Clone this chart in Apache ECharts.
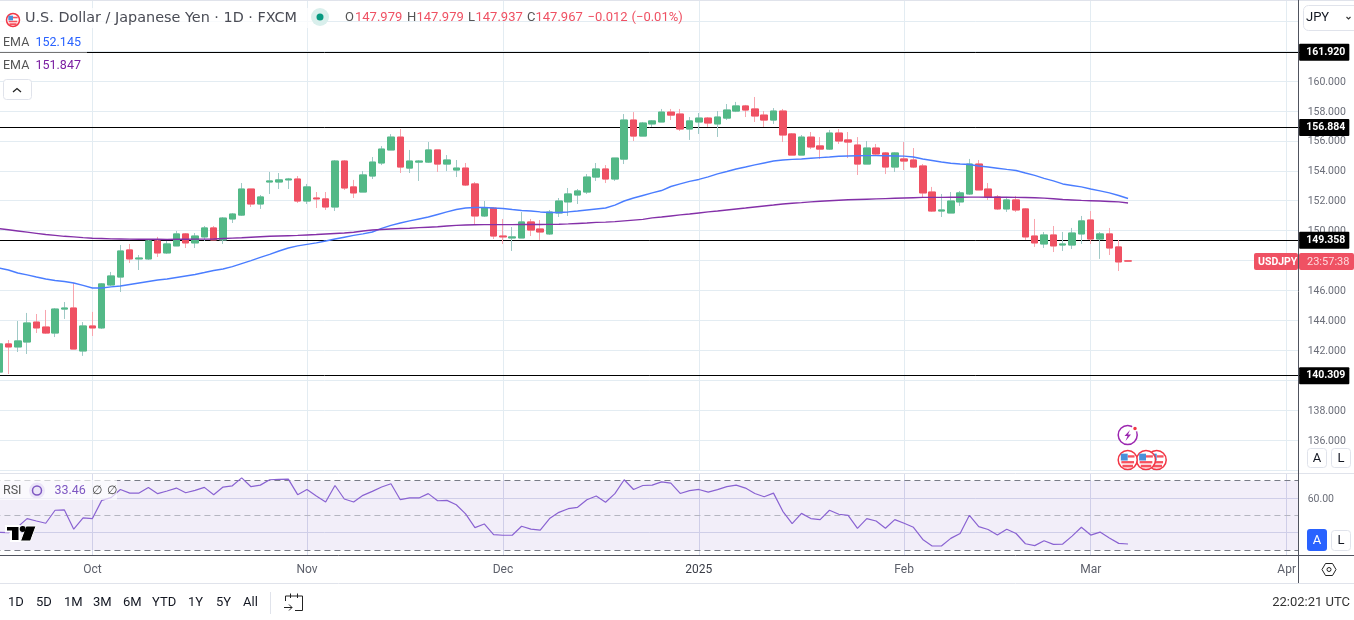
<!DOCTYPE html>
<html>
<head>
<meta charset="utf-8">
<style>html,body{margin:0;padding:0;background:#fff}#chart{width:1354px;height:620px}</style>
<script src="https://cdn.jsdelivr.net/npm/echarts@6/dist/echarts.min.js"></script>
</head>
<body>
<div id="chart"></div>
<script>
// daily USD/JPY, first bar is 17 Sep 2024
const opens = [140.55,142.43,142.23,142.56,143.89,143.56,143.16,144.76,144.83,141.96,143.63,143.50,146.37,146.90,148.71,148.11,148.11,149.31,148.51,148.98,
149.78,149.18,149.58,150.18,149.38,150.78,151.04,152.78,151.78,153.25,153.25,153.39,153.45,151.98,152.18,152.12,151.58,154.65,152.92,152.58,
153.65,154.52,155.39,156.25,154.18,154.58,154.58,155.39,154.45,154.05,154.18,153.12,150.98,151.51,149.64,149.51,149.51,150.58,150.11,149.78,
151.18,151.92,152.38,152.58,153.58,154.12,153.45,154.78,157.39,156.32,157.13,157.26,157.92,157.79,156.79,157.26,157.52,157.13,157.52,157.99,
158.33,158.13,157.72,157.39,157.99,156.46,155.05,156.25,155.66,155.45,156.52,156.06,155.72,154.45,155.52,155.19,154.25,154.79,154.72,154.32,
152.58,151.31,151.18,151.92,152.45,154.45,152.78,152.25,151.45,152.05,151.45,149.64,149.11,149.71,149.04,149.04,149.78,150.71,149.44,149.78,
148.91,147.979];
const closes = [142.43,142.23,142.63,143.83,143.50,143.16,144.76,144.83,142.09,143.63,143.50,146.44,146.97,148.64,148.11,148.17,149.31,148.51,149.11,149.78,
149.18,149.64,150.18,149.38,150.84,151.11,152.78,151.78,152.25,153.32,153.39,153.45,151.98,152.92,152.12,151.58,154.65,152.85,152.52,153.72,
154.58,155.45,156.25,154.25,154.65,154.65,155.39,154.45,154.72,154.18,153.05,150.98,151.51,149.64,149.58,149.58,150.58,150.04,149.91,151.24,
151.98,152.45,152.65,153.58,154.12,153.45,154.85,157.39,156.32,157.19,157.33,157.92,157.72,156.79,157.33,157.52,157.19,157.59,158.06,158.33,
158.06,157.66,157.39,157.99,156.39,155.05,156.25,155.59,155.45,156.52,155.99,155.92,154.45,155.52,155.12,154.25,155.19,154.65,154.25,152.52,
151.31,151.38,151.98,152.52,154.45,152.72,152.25,151.45,152.05,151.38,149.58,149.18,149.71,148.98,149.11,149.84,150.65,149.44,149.78,148.84,
147.91,147.967];
const lows = [140.42,140.42,141.89,141.76,143.16,143.10,142.89,144.10,142.09,141.63,142.96,143.43,146.30,145.90,147.84,147.37,148.04,148.24,148.44,148.98,
148.84,148.84,149.31,149.38,149.11,150.51,150.98,151.58,151.45,152.45,152.78,152.78,151.85,151.78,151.51,151.38,151.31,152.72,152.18,152.58,
153.45,154.38,155.39,153.85,153.85,153.32,154.52,153.92,153.98,153.58,152.98,150.38,150.91,149.44,149.11,148.64,149.51,149.64,149.38,149.71,
150.91,150.98,151.78,152.45,153.32,153.18,153.32,154.45,155.99,156.32,156.93,157.26,157.39,156.66,156.06,156.46,156.93,156.26,157.39,157.92,
157.59,157.26,156.93,157.13,155.92,155.05,155.05,155.45,154.79,155.39,155.79,154.85,153.72,154.45,155.05,153.78,153.92,154.05,154.18,152.18,
151.25,150.91,151.18,151.65,152.38,152.72,152.05,151.38,151.25,151.25,149.38,148.91,148.84,148.57,148.64,148.77,149.11,149.11,148.11,148.37,
147.30,147.937];
const highs = [142.56,142.69,143.96,144.50,144.43,144.70,144.83,145.23,146.50,143.89,144.57,146.50,147.24,149.04,149.11,148.37,149.38,149.58,149.31,149.98,
149.84,149.84,150.31,150.31,150.91,151.18,153.18,152.78,152.38,153.92,153.85,153.52,153.65,153.12,152.58,152.58,154.72,154.72,153.39,153.98,
154.92,155.65,156.45,156.79,155.39,154.72,155.92,155.39,155.05,154.72,154.52,153.25,151.98,151.58,150.78,150.24,151.24,150.78,150.71,151.38,
152.18,152.85,152.78,153.78,154.52,154.38,154.85,157.79,157.92,157.26,157.39,158.13,158.13,158.13,157.59,157.86,157.59,157.99,158.46,158.60,
158.40,158.93,157.99,158.19,158.13,156.52,156.39,156.59,156.25,156.73,156.79,156.59,156.25,155.99,155.79,155.25,155.25,155.92,155.52,154.45,
152.92,152.45,152.58,152.65,154.79,154.72,153.18,152.38,152.25,152.32,151.51,150.78,149.91,150.31,149.91,150.18,150.98,151.31,149.91,150.18,
149.38,147.979];
const emaBlue = [147.50,147.37,147.17,147.04,146.90,146.77,146.67,146.60,146.50,146.34,146.17,146.17,146.24,146.30,146.40,146.50,146.60,146.70,146.77,146.87,
146.97,147.07,147.20,147.34,147.44,147.60,147.80,148.00,148.21,148.41,148.64,148.84,148.98,149.08,149.18,149.31,149.44,149.56,149.68,149.78,
149.91,150.15,150.35,150.51,150.65,150.78,150.91,151.08,151.25,151.41,151.51,151.55,151.55,151.51,151.48,151.41,151.35,151.31,151.25,151.21,
151.21,151.25,151.31,151.38,151.45,151.51,151.71,151.98,152.18,152.35,152.52,152.68,152.95,153.12,153.29,153.42,153.59,153.79,153.95,154.12,
154.25,154.39,154.52,154.65,154.72,154.76,154.79,154.84,154.88,154.92,154.97,154.99,155.00,155.01,155.01,155.00,154.99,154.98,154.92,154.79,
154.69,154.59,154.50,154.45,154.42,154.32,154.25,154.17,154.09,154.02,153.85,153.69,153.49,153.32,153.12,153.02,152.92,152.78,152.66,152.52,
152.35,152.145];
const emaPurple = [150.13,150.06,149.98,149.90,149.82,149.74,149.68,149.62,149.58,149.53,149.49,149.47,149.45,149.44,149.43,149.42,149.42,149.42,149.41,149.42,
149.42,149.43,149.43,149.44,149.47,149.50,149.52,149.56,149.59,149.62,149.64,149.66,149.68,149.71,149.74,149.78,149.81,149.84,149.89,149.98,
150.04,150.08,150.11,150.14,150.16,150.20,150.23,150.26,150.31,150.35,150.38,150.39,150.40,150.40,150.40,150.40,150.41,150.41,150.41,150.42,
150.43,150.45,150.48,150.51,150.55,150.57,150.60,150.65,150.70,150.75,150.85,150.91,150.98,151.05,151.11,151.18,151.25,151.31,151.38,151.45,
151.51,151.58,151.65,151.71,151.78,151.83,151.87,151.92,151.96,152.00,152.03,152.06,152.08,152.10,152.12,152.14,152.16,152.18,152.20,152.22,
152.22,152.22,152.23,152.23,152.24,152.24,152.23,152.23,152.23,152.22,152.21,152.20,152.17,152.13,152.08,152.05,152.02,152.00,151.98,151.95,
151.92,151.847];
const rsi = [40.2,40.0,43.3,48.1,46.7,45.4,52.9,53.1,42.0,48.5,48.1,58.6,60.2,64.9,62.8,62.8,66.1,62.5,64.0,65.7,
63.0,64.4,66.1,61.9,66.3,67.0,71.6,66.5,67.4,70.5,70.7,70.9,61.9,64.9,61.1,57.7,67.2,59.4,57.7,61.5,
63.8,66.3,68.2,59.0,60.0,60.0,62.5,58.4,58.6,56.1,50.8,42.9,45.0,38.9,38.5,38.5,43.7,42.0,41.4,48.1,
51.7,53.8,54.6,59.0,61.1,57.5,62.5,70.5,64.9,67.2,67.4,69.3,68.6,62.6,64.2,64.9,63.4,64.8,66.5,67.4,
65.7,62.6,60.7,62.8,52.3,45.2,51.1,48.1,47.5,52.9,50.6,50.0,42.5,48.1,46.7,42.5,47.5,45.4,43.1,36.1,
32.3,32.3,36.7,39.5,50.0,43.5,41.8,38.6,42.0,39.5,33.6,32.5,35.3,33.2,33.4,38.0,43.1,38.6,40.3,36.9,
33.8,33.46];
const levels = [161.920,156.884,149.358,140.309];
const rsiBandTop = 70, rsiBandMid = 50, rsiBandBottom = 30;
const rsiTicks = [40,60];
const rsiLabels = [60];
const monthLabels = {'2024-10-01':'Oct','2024-11-01':'Nov','2024-12-02':'Dec','2025-01-02':'2025','2025-02-03':'Feb','2025-03-03':'Mar','2025-04-01':'Apr'};
const closedDays = ['2024-12-25','2025-01-01'];
const rangeButtons = ['1D','5D','1M','3M','6M','YTD','1Y','5Y','All'];

// weekday axis, runs on empty past the last bar up to April
let categories = [];
let day = Date.UTC(2024,8,17);
while(categories.length < 140){
    let d = new Date(day);
    let s = d.toISOString().slice(0,10);
    if(d.getUTCDay() != 0 && d.getUTCDay() != 6 && closedDays.indexOf(s) < 0) categories.push(s);
    day += 86400000;
}

const FONT = 'Roboto, sans-serif';
const UP = '#53b987', DOWN = '#ef5163';
const UP_WICK = '#9fc9c6', DOWN_WICK = '#f8a5ae';
const GRID = '#e3ecf2', AXIS = '#50535e', BORDER = '#e0e3eb';

let candleRaw = [], candleBody = [];
for(let i = 0; i < opens.length; i++){
    candleRaw.push([opens[i],closes[i],lows[i],highs[i]]);
    candleBody.push([opens[i],closes[i],Math.min(opens[i],closes[i]),Math.max(opens[i],closes[i])]);
}

function text(x,y,s,fill,size,extra){
    extra = extra || {};
    let st = {x:x,y:y,text:s,fill:fill,font:(extra.weight?extra.weight+' ':'')+size+'px '+(extra.family||FONT),verticalAlign:'middle',align:extra.align||'left'};
    return {type:'text',z:30,silent:true,style:st};
}
function box(x,y,w,h,fill,opt){
    opt = opt || {};
    return {type:'rect',z:opt.z||25,silent:true,shape:{x:x,y:y,width:w,height:h,r:opt.r||0},
        style:{fill:fill,stroke:opt.stroke||null,lineWidth:1,opacity:opt.opacity==null?1:opt.opacity}};
}
function line(x1,y1,x2,y2,color,z){
    return {type:'line',z:z||26,silent:true,shape:{x1:x1,y1:y1,x2:x2,y2:y2},style:{stroke:color,lineWidth:1}};
}
function circle(x,y,r,fill,stroke,z){
    return {type:'circle',z:z||28,silent:true,shape:{cx:x,cy:y,r:r},style:{fill:fill,stroke:stroke||null,lineWidth:1.5}};
}
function flag(x,y,r,z){
    let k = r/9;
    return [
        circle(x,y,r,'#fff','#f23645',z),
        box(x-6*k,y+1*k,12*k,2.2*k,'#f7525f',{z:z+0.1}),
        box(x-5*k,y+4.5*k,10*k,2.5*k,'#f7525f',{z:z+0.1}),
        box(x,y-4.5*k,6.5*k,2.2*k,'#f7525f',{z:z+0.1}),
        box(x-6.5*k,y-6*k,6.5*k,6.5*k,'#4a90d9',{z:z+0.2})
    ];
}

let ui = [
    // the axis overruns by a couple of pixels, cover it
    box(1298,0,4,472,'#fff',{z:2}),
    box(1298,473,4,82,'#fff',{z:3.5}),
    box(0,8,318,20,'#fff',{opacity:0.75,z:20}),
    box(0,31,87,45,'#fff',{opacity:0.45,z:20}),
    box(0,480,117,20,'#fff',{opacity:0.65,z:20}),
    line(0,0.5,1354,0.5,BORDER),
    line(0,473.5,1354,473.5,BORDER),
    line(0,583.5,1354,583.5,BORDER),
    line(0,555.5,1354,555.5,AXIS),
    line(1298.5,0,1298.5,583,AXIS),
    text(25,18,'U.S. Dollar / Japanese Yen · 1D · FXCM','#4a4c55',14.4,{family:'"DejaVu Sans", sans-serif'}),
    circle(320,17,9,'#d9efec',null,21),
    circle(320,17,3.5,'#089981',null,22),
    text(345,18,'O','#555',13), text(355,18,'147.979',DOWN,13),
    text(407,18,'H','#555',13), text(416.5,18,'147.979',DOWN,13),
    text(468,18,'L','#555',13), text(475.5,18,'147.937',DOWN,13),
    text(527,18,'C','#555',13), text(535.5,18,'147.967',DOWN,13),
    text(587.5,18,'−0.012',DOWN,13), text(631.5,18,'(−0.01%)',DOWN,13),
    text(3,42.5,'EMA','#555',12.5), text(35.5,42.5,'152.145','#2962ff',12.5),
    text(3,66,'EMA','#555',12.5), text(35.5,66,'151.847','#7b1fa2',12.5),
    box(3.5,79.5,28,20,'#fff',{stroke:BORDER,r:3}),
    {type:'polyline',z:30,silent:true,shape:{points:[[13,92],[17,88.5],[21,92]]},style:{stroke:'#222',lineWidth:1.3,fill:null}},
    text(3,491,'RSI','#555',12.5),
    circle(37,490.5,8,'#ece6f8',null,21),
    circle(37,490.5,4.5,null,'#7e57c2',22),
    text(54.5,491,'33.46','#7e57c2',12.5),
    text(92,491,'∅','#444',12), text(107,491,'∅','#444',12),
    // tradingview mark
    {type:'polygon',z:24,silent:true,shape:{points:[[6,526],[19.5,526],[19.5,541],[11,541],[11,531.5],[6,531.5]]},style:{fill:'#000',stroke:'#fff',lineWidth:2}},
    circle(22.7,529,3,'#000',null,25),
    {type:'polygon',z:24,silent:true,shape:{points:[[26,526],[36,526],[30.5,541],[20.5,541]]},style:{fill:'#000',stroke:'#fff',lineWidth:1}},
    // price tag
    box(1254,253,44,17,'#ef5163',{r:2,z:27}),
    box(1299,253,55,17,'#ef5163',{r:2,z:27}),
    text(1258,262,'USDJPY','#fff',10.5,{weight:'bold'}),
    text(1307,262,'23:57:38','#fdd8dc',11),
    // scale buttons
    box(1303.5,5.5,60,25,'#fff',{stroke:BORDER,r:5}),
    text(1306,18,'JPY','#131722',13),
    {type:'polyline',z:30,silent:true,shape:{points:[[1346.5,17],[1348.5,19],[1350.5,17]]},style:{stroke:'#333',lineWidth:1.1,fill:null}},
    box(1307.5,448.5,19,19,'#fff',{stroke:BORDER,r:3}), text(1317,458.5,'A','#131722',13,{align:'center'}),
    box(1331.5,448.5,19,19,'#fff',{stroke:BORDER,r:3}), text(1341,458.5,'L','#131722',13,{align:'center'}),
    box(1307,529,20,22,'#2962ff',{r:3}), text(1317,540.5,'A','#fff',13,{align:'center'}),
    box(1331.5,530.5,19,20,'#fff',{stroke:BORDER,r:3}), text(1341,540.5,'L','#131722',13,{align:'center'}),
    // settings hexagon
    {type:'polygon',z:30,silent:true,shape:{points:[[1322,569.5],[1325.5,563.5],[1332.5,563.5],[1336,569.5],[1332.5,575.5],[1325.5,575.5]]},style:{fill:null,stroke:'#222',lineWidth:1}},
    {type:'circle',z:30,silent:true,shape:{cx:1329,cy:569.5,r:2},style:{fill:null,stroke:'#222',lineWidth:1}},
    // bottom bar
    line(270.5,592,270.5,614,BORDER),
    {type:'polyline',z:30,silent:true,shape:{points:[[285.5,601],[285.5,596],[302.5,596],[302.5,610.5],[295,610.5]]},style:{stroke:'#222',lineWidth:1,fill:null}},
    line(290.5,593.5,290.5,598,'#222'), line(297.5,593.5,297.5,598,'#222'),
    {type:'polyline',z:30,silent:true,shape:{points:[[284,607.5],[292,607.5]]},style:{stroke:'#222',lineWidth:1}},
    {type:'polyline',z:30,silent:true,shape:{points:[[289,604.5],[292,607.5],[289,610.5]]},style:{stroke:'#222',lineWidth:1,fill:null}},
    text(1350,603,'22:02:21 UTC','#333',13,{align:'right'}),
    // events
    circle(1127.7,435,9.5,'#fff','#9c27b0',28),
    {type:'polygon',z:29,silent:true,shape:{points:[[1130,430],[1124.5,436],[1127.5,436],[1125.5,441],[1131,434.5],[1128,434.5]]},style:{fill:'#9c27b0'}},
    circle(1135,428.5,2.5,'#f23645','#fff',29)
].concat(flag(1156.7,460,9.5,27)).concat(flag(1146,460,9.5,27.5)).concat(flag(1127.7,460,9.5,28)).concat(flag(13,20,6.5,27));

const rangeX = [8,36,64,93,123,152,188,216,243];
for(let i = 0; i < rangeButtons.length; i++){
    ui.push(text(rangeX[i],603,rangeButtons[i],'#131722',13));
}

const tickRich = {t:{color:'#6a6d78',fontSize:10.5,fontFamily:FONT,padding:[2,0,0,0]}};

let option = {
    animation:false,
    textStyle:{fontFamily:FONT},
    graphic:{elements:ui},
    axisPointer:{show:false},
    grid:[
        {left:-5.565,top:0,width:1306.2,height:470.1,outerBoundsMode:'none'},
        {left:-5.565,top:473,width:1306.2,height:82,outerBoundsMode:'none'}
    ],
    xAxis:[
        {type:'category',gridIndex:0,data:categories,boundaryGap:true,
            axisLine:{show:false},axisTick:{show:false},axisLabel:{show:false},
            splitLine:{show:true,alignWithLabel:true,lineStyle:{color:GRID,width:1},interval:function(i,v){return !!monthLabels[v];}}},
        {type:'category',gridIndex:1,data:categories,boundaryGap:true,
            axisLine:{show:false},axisTick:{show:false},
            axisLabel:{show:true,interval:function(i,v){return !!monthLabels[v];},
                formatter:function(v){
                    let s = monthLabels[v]||'';
                    return s == '2025' ? '{year|'+s+'}' : s;
                },
                rich:{year:{color:'#3a3d47',fontSize:12,fontFamily:FONT}},
                color:'#5d606b',fontSize:12,margin:9,
                fontFamily:FONT},
            splitLine:{show:true,alignWithLabel:true,lineStyle:{color:'#d8dcec',width:1},interval:function(i,v){return !!monthLabels[v];}}}
    ],
    yAxis:[
        {type:'value',gridIndex:0,position:'right',min:134,max:165.41,interval:2,
            axisLine:{show:false},axisTick:{show:false},
            axisLabel:{margin:7,showMaxLabel:false,showMinLabel:false,rich:tickRich,
                formatter:function(v){return '{t|'+v.toFixed(3)+'}';}},
            splitLine:{show:true,lineStyle:{color:GRID,width:1}}},
        {type:'value',gridIndex:1,position:'right',min:27.1,max:74.4,
            axisLine:{show:false},axisTick:{show:false,customValues:rsiTicks},
            axisLabel:{margin:7,customValues:rsiLabels,rich:tickRich,formatter:function(v){return '{t|'+v.toFixed(2)+'}';}},
            splitLine:{show:true,lineStyle:{color:'#d8dcec',width:1}}}
    ],
    series:[
        {name:'wicks',type:'candlestick',xAxisIndex:0,yAxisIndex:0,data:candleRaw,barWidth:7,z:4,silent:true,
            itemStyle:{color:UP,color0:DOWN,borderColor:UP_WICK,borderColor0:DOWN_WICK,borderWidth:1},
            markLine:{silent:true,symbol:'none',z:3,animation:false,precision:3,
                lineStyle:{color:'#000',type:'solid',width:1},
                label:{show:true,position:'end',distance:-1.5,formatter:function(p){return p.value.toFixed(3);},
                    color:'#fff',backgroundColor:'#000',fontWeight:'bold',fontSize:10.5,padding:[4,4,2,7],borderRadius:1,fontFamily:FONT},
                data:levels.map(function(v){return {yAxis:v};})}},
        {name:'bodies',type:'candlestick',xAxisIndex:0,yAxisIndex:0,data:candleBody,barWidth:7,z:5,silent:true,
            itemStyle:{color:UP,color0:DOWN,borderColor:UP,borderColor0:DOWN,borderWidth:1}},
        {name:'EMA fast',type:'line',xAxisIndex:0,yAxisIndex:0,data:emaBlue,showSymbol:false,z:6,silent:true,
            lineStyle:{color:'#4a7dff',width:1.4}},
        {name:'EMA slow',type:'line',xAxisIndex:0,yAxisIndex:0,data:emaPurple,showSymbol:false,z:6,silent:true,
            lineStyle:{color:'#8430a8',width:1.4}},
        {name:'RSI',type:'line',xAxisIndex:1,yAxisIndex:1,data:rsi,showSymbol:false,z:4,silent:true,
            lineStyle:{color:'#8a63d2',width:1.2},
            markArea:{silent:true,z:1,itemStyle:{color:'rgba(126,87,194,0.1)'},data:[[{yAxis:rsiBandBottom},{yAxis:rsiBandTop}]]},
            markLine:{silent:true,symbol:'none',z:3,animation:false,label:{show:false},
                data:[
                    {yAxis:rsiBandTop,lineStyle:{color:'#787b86',type:[6,4],width:1}},
                    {yAxis:rsiBandMid,lineStyle:{color:'#b4b5c0',type:[6,4],width:1}},
                    {yAxis:rsiBandBottom,lineStyle:{color:'#787b86',type:[6,4],width:1}}
                ]}}
    ]
};

let chart = echarts.init(document.getElementById('chart'),null,{renderer:'canvas'});
chart.setOption(option);
</script>
</body>
</html>
